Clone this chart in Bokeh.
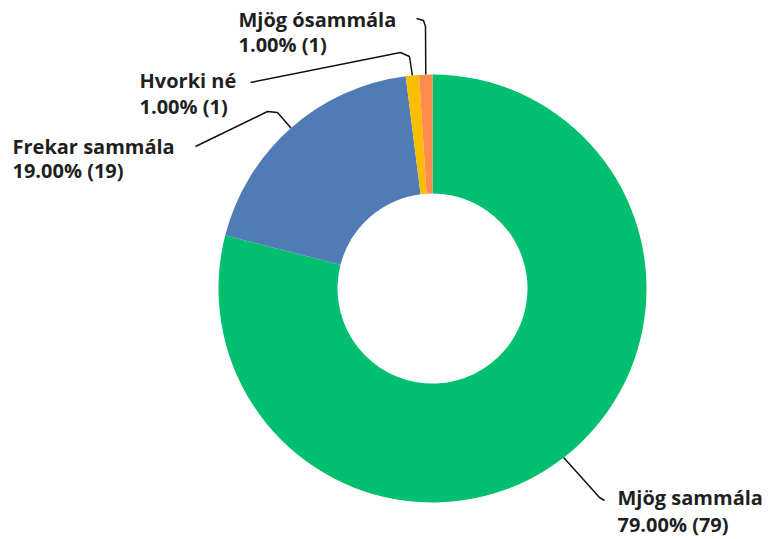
import math
from bokeh.plotting import figure
from bokeh.models import Range1d, ColumnDataSource
from bokeh.core.properties import value
from bokeh.embed import file_html
from bokeh.resources import INLINE

# ---- data ----
categories = ["Mjög sammála", "Frekar sammála", "Hvorki né", "Mjög ósammála"]
counts = [79, 19, 1, 1]
percents = [79.00, 19.00, 1.00, 1.00]
colors = ["#00BF6F", "#507CB6", "#F9BE00", "#FF8B4F"]

W, H = 770, 539
def sx(px):
    return px
def sy(py):
    return H - py

cx, cy = sx(432), sy(288)
R_OUT, R_IN = 214, 95

p = figure(width=W, height=H, output_backend="svg", toolbar_location=None,
           x_range=Range1d(0, W), y_range=Range1d(0, H), min_border=0)
p.axis.visible = False
p.grid.visible = False
p.outline_line_color = None
p.background_fill_color = "white"
p.border_fill_color = "white"

total = sum(counts)
starts, ends, mids = [], [], []
cum = 0
for c in counts:
    a0 = math.pi / 2 - 2 * math.pi * cum / total
    cum += c
    a1 = math.pi / 2 - 2 * math.pi * cum / total
    starts.append(a0); ends.append(a1); mids.append((a0 + a1) / 2)

src = ColumnDataSource(dict(start=starts, end=ends, color=colors))
p.annular_wedge(x=cx, y=cy, inner_radius=R_IN, outer_radius=R_OUT,
                start_angle="start", end_angle="end", direction="clock",
                fill_color="color", line_color=None, source=src)

# label layout (screen px): elbow points and text anchor (line centres)
layout = {
    "Mjög sammála":   dict(pts=[(599, 497), (604, 500)], tx=617, cy=(497, 524)),
    "Frekar sammála": dict(pts=[(277, 112), (267, 111), (195, 146)], tx=12, cy=(146, 170)),
    "Hvorki né":      dict(pts=[(409, 56), (400, 52), (250, 82)], tx=139, cy=(80, 106)),
    "Mjög ósammála":  dict(pts=[(425, 26), (423, 20), (416, 18)], tx=238, cy=(19, 44)),
}

for cat, pct, n, m in zip(categories, percents, counts, mids):
    ax = cx + R_OUT * math.cos(m)
    ay = cy + R_OUT * math.sin(m)
    L = layout[cat]
    xs = [ax] + [sx(x) for x, _ in L["pts"]]
    ys = [ay] + [sy(y) for _, y in L["pts"]]
    p.line(xs, ys, line_color="#111111", line_width=1.5)
    p.text(x=[sx(L["tx"])] * 2, y=[sy(L["cy"][0]), sy(L["cy"][1])],
           text=[cat, f"{pct:.2f}% ({n})"],
           text_font=value("Open Sans"), text_font_style="bold",
           text_font_size="20px", text_color="#1f1f1f",
           text_baseline="middle", text_align="left")

open("out.html", "w").write(file_html(p, INLINE))
